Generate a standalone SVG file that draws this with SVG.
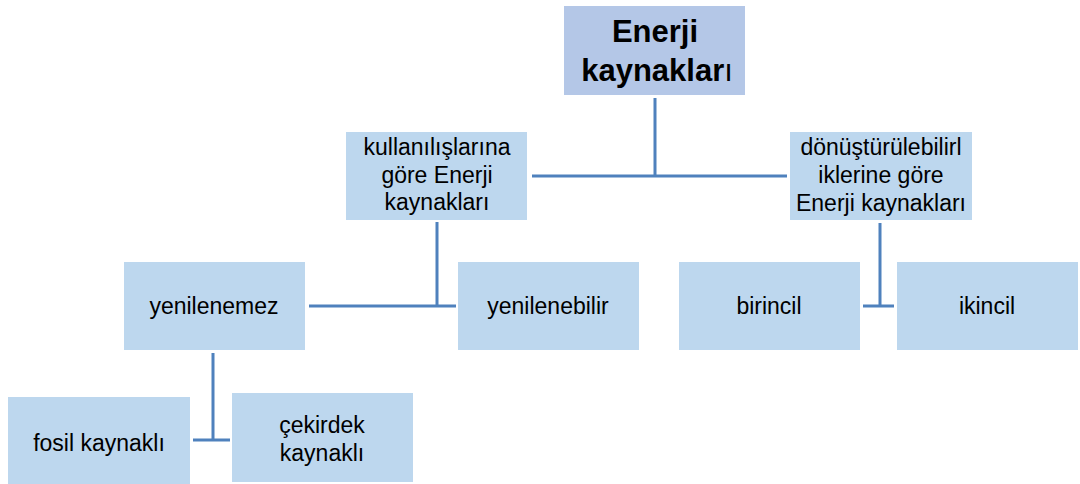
<svg xmlns="http://www.w3.org/2000/svg" width="1080" height="484" viewBox="0 0 1080 484">
<style>
.box{fill:#bdd7ee}
.top{fill:#b4c7e7}
.t{font-family:"Liberation Sans",Arial,sans-serif;font-size:23px;fill:#000;text-anchor:middle}
.tb{font-family:"Liberation Sans",Arial,sans-serif;font-size:31px;font-weight:bold;fill:#000;text-anchor:middle}
.c{stroke:#4f81bd;stroke-width:3;fill:none}
</style>
<rect width="1080" height="484" fill="#fff"/>
<g id="connectors">
<path class="c" d="M655 98V176M532 176H787"/>
<path class="c" d="M437 222V306M309 306H456"/>
<path class="c" d="M880 223V306M863 306H894"/>
<path class="c" d="M213 353V440M193 440H230"/>
</g>
<g id="n-root"><rect class="top" x="564" y="6" width="181" height="89"/>
<text class="tb" x="655" y="42">Enerji</text>
<text class="tb" x="657" y="81">kaynaklar<tspan font-weight="normal">ı</tspan></text></g>
<g id="n-kullanim"><rect class="box" x="346" y="132" width="181" height="88"/>
<text class="t" x="437" y="155">kullanılışlarına</text>
<text class="t" x="437" y="183">göre Enerji</text>
<text class="t" x="437" y="210">kaynakları</text></g>
<g id="n-donusum"><rect class="box" x="790" y="132" width="182" height="88"/>
<text class="t" x="881" y="155">dönüştürülebilirl</text>
<text class="t" x="881" y="183">iklerine göre</text>
<text class="t" x="881" y="211">Enerji kaynakları</text></g>
<g id="n-yenilenemez"><rect class="box" x="124" y="262" width="181" height="88"/>
<text class="t" x="214" y="314">yenilenemez</text></g>
<g id="n-yenilenebilir"><rect class="box" x="458" y="262" width="181" height="88"/>
<text class="t" x="548" y="314">yenilenebilir</text></g>
<g id="n-birincil"><rect class="box" x="679" y="262" width="181" height="88"/>
<text class="t" x="769" y="314">birincil</text></g>
<g id="n-ikincil"><rect class="box" x="897" y="262" width="181" height="88"/>
<text class="t" x="987" y="314">ikincil</text></g>
<g id="n-fosil"><rect class="box" x="8" y="397" width="182" height="87"/>
<text class="t" x="99" y="451">fosil kaynaklı</text></g>
<g id="n-cekirdek"><rect class="box" x="232" y="393" width="181" height="89"/>
<text class="t" x="322" y="433">çekirdek</text>
<text class="t" x="322" y="461">kaynaklı</text></g>
</svg>
